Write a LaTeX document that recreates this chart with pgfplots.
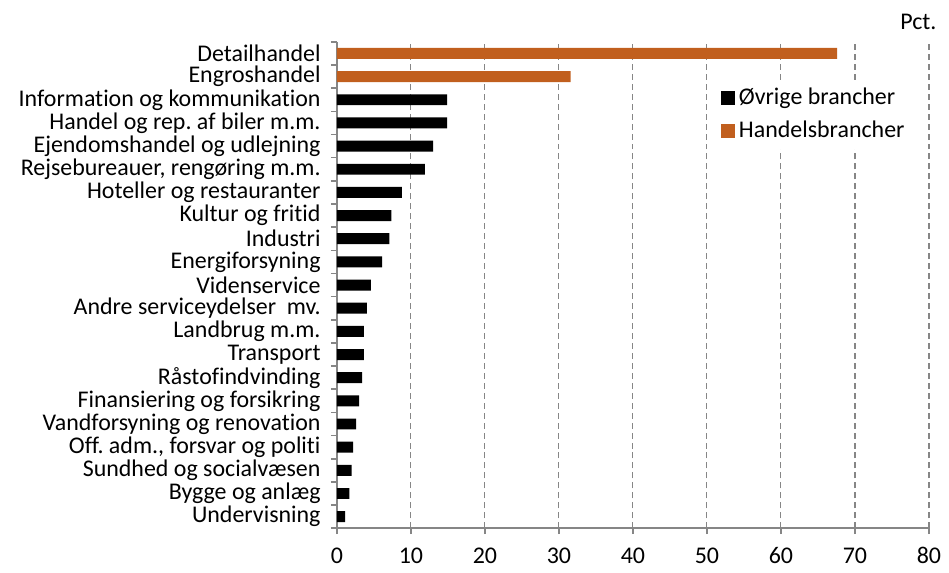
\documentclass[border=0pt]{standalone}
\usepackage{pgfplots}
\pgfplotsset{compat=1.18}
\usepackage{fontspec}
\setmainfont{Carlito}[Ligatures=NoCommon]
\definecolor{handel}{RGB}{193,95,30}
\definecolor{axisgray}{RGB}{134,134,134}
\begin{document}
\frenchspacing
\fontsize{12}{14}\selectfont
\begin{tikzpicture}
\begin{axis}[
  scale only axis, width=297pt, height=244pt,
  xbar, bar width=5.5pt, bar shift=0pt,
  xmin=0, xmax=80, xtick={0,10,...,80},
  ymin=-0.5, ymax=20.5,
  ytick={-0.5,0.5,...,20.5}, yticklabels={},
  extra y ticks={0,...,20},
  extra y tick labels={Undervisning,Bygge og anlæg,Sundhed og socialvæsen,{Off. adm., forsvar og politi},Vandforsyning og renovation,Finansiering og forsikring,Råstofindvinding,Transport,Landbrug m.m.,Andre serviceydelser~ mv.,Videnservice,Energiforsyning,Industri,Kultur og fritid,Hoteller og restauranter,{Rejsebureauer, rengøring m.m.},Ejendomshandel og udlejning,Handel og rep. af biler m.m.,Information og kommunikation,Engroshandel,Detailhandel},
  extra y tick style={major tick length=0pt, grid=none},
  yticklabel style={xshift=-4pt},
  xticklabel style={yshift=-2.5pt},
  axis x line*=bottom, axis y line*=left,
  axis line style={axisgray, line width=0.8pt},
  tick style={axisgray, line width=0.8pt},
  tick align=outside, major tick length=3pt,
  xmajorgrids, grid style={axisgray, line width=0.6pt, dash pattern=on 3pt off 2pt},
  /pgf/number format/assume math mode=true,
  clip=false,
  legend style={at={(rel axis cs:0.638,0.922)}, anchor=north west, draw=none, fill=white,
    inner xsep=3pt, inner ysep=2pt, row sep=2.5pt},
  legend cell align=left,
]
\path ([shift={(-169pt,-19.5pt)}]rel axis cs:0,0) rectangle ([shift={(8.5pt,21pt)}]rel axis cs:1,1);
\addplot[fill=black, draw=none,
  legend image code/.code={\fill[black] (0pt,-3.5pt) rectangle (7pt,3.5pt);}]
  coordinates {(1.1,0) (1.7,1) (2.0,2) (2.2,3) (2.6,4) (3.0,5) (3.4,6) (3.65,7) (3.65,8) (4.05,9) (4.6,10) (6.1,11) (7.1,12) (7.35,13) (8.8,14) (11.9,15) (13.0,16) (14.9,17) (14.9,18)};
\addlegendentry{Øvrige brancher}
\addplot[fill=handel, draw=none,
  legend image code/.code={\fill[handel] (0pt,-3.5pt) rectangle (7pt,3.5pt);}]
  coordinates {(31.6,19) (67.6,20)};
\addlegendentry{Handelsbrancher}
\node[anchor=base east] at ([shift={(8pt,6pt)}]rel axis cs:1,1) {Pct.};
\end{axis}
\end{tikzpicture}
\end{document}
